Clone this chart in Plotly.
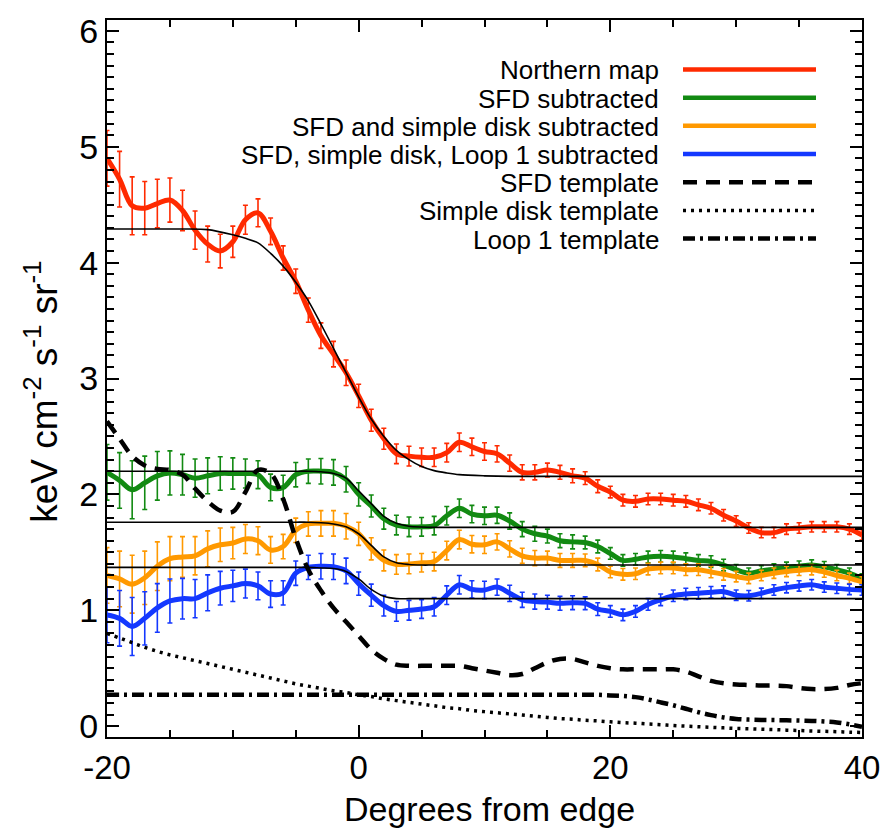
import plotly.graph_objects as go

# ---------------- data ----------------
x_deg = list(range(-20, 41))

northern = [4.90, 4.72, 4.49, 4.47, 4.51, 4.54, 4.45, 4.28, 4.16, 4.10,
            4.18, 4.37, 4.43, 4.27, 4.04, 3.84, 3.59, 3.37, 3.21, 3.05,
            2.85, 2.64, 2.48, 2.35, 2.33, 2.32, 2.32, 2.36, 2.45, 2.41,
            2.37, 2.35, 2.27, 2.19, 2.19, 2.21, 2.19, 2.16, 2.14, 2.07,
            2.02, 1.95, 1.94, 1.96, 1.96, 1.95, 1.94, 1.91, 1.88, 1.82,
            1.77, 1.71, 1.67, 1.67, 1.70, 1.71, 1.72, 1.72, 1.72, 1.70,
            1.65]

sfd_sub = [2.19, 2.12, 2.04, 2.10, 2.16, 2.185, 2.17, 2.14, 2.16, 2.18,
           2.18, 2.18, 2.17, 2.06, 2.06, 2.17, 2.20, 2.20, 2.19, 2.13,
           2.00, 1.90, 1.79, 1.735, 1.72, 1.72, 1.73, 1.815, 1.88, 1.83,
           1.815, 1.82, 1.77, 1.70, 1.66, 1.64, 1.60, 1.59, 1.585, 1.55,
           1.49, 1.43, 1.44, 1.46, 1.465, 1.46, 1.445, 1.43, 1.42, 1.39,
           1.35, 1.32, 1.34, 1.355, 1.37, 1.38, 1.39, 1.375, 1.35, 1.32,
           1.27]

sfd_disk_sub = [1.30, 1.27, 1.225, 1.28, 1.38, 1.445, 1.46, 1.47, 1.53, 1.565,
                1.58, 1.615, 1.60, 1.52, 1.55, 1.69, 1.745, 1.75, 1.75, 1.725,
                1.66, 1.53, 1.43, 1.395, 1.40, 1.41, 1.42, 1.515, 1.61, 1.57,
                1.565, 1.59, 1.53, 1.47, 1.45, 1.45, 1.43, 1.43, 1.43, 1.395,
                1.33, 1.31, 1.315, 1.355, 1.365, 1.365, 1.35, 1.35, 1.33, 1.31,
                1.29, 1.275, 1.30, 1.32, 1.335, 1.345, 1.35, 1.33, 1.30, 1.275,
                1.245]

sfd_disk_loop_sub = [0.96, 0.93, 0.86, 0.93, 1.02, 1.08, 1.10, 1.10, 1.15, 1.19,
                     1.21, 1.23, 1.21, 1.14, 1.15, 1.32, 1.37, 1.38, 1.375, 1.34,
                     1.23, 1.13, 1.04, 0.99, 1.00, 1.01, 1.03, 1.13, 1.22, 1.18,
                     1.175, 1.20, 1.146, 1.09, 1.075, 1.07, 1.06, 1.065, 1.06, 1.01,
                     0.99, 0.96, 0.99, 1.05, 1.09, 1.125, 1.14, 1.146, 1.155, 1.16,
                     1.13, 1.125, 1.146, 1.175, 1.195, 1.21, 1.22, 1.20, 1.19, 1.18,
                     1.175]

errors = [0.24, 0.24, 0.25, 0.23, 0.21, 0.19, 0.175, 0.165, 0.155, 0.145,
          0.135, 0.125, 0.12, 0.115, 0.105, 0.105, 0.105, 0.11, 0.11, 0.11,
          0.10, 0.095, 0.09, 0.085, 0.085, 0.08, 0.08, 0.08, 0.08, 0.075,
          0.075, 0.07, 0.07, 0.065, 0.065, 0.06, 0.06, 0.06, 0.055, 0.055,
          0.05, 0.05, 0.05, 0.05, 0.05, 0.05, 0.05, 0.05, 0.05, 0.05,
          0.045, 0.045, 0.045, 0.045, 0.045, 0.045, 0.045, 0.045, 0.045, 0.045,
          0.045]

# fitted step models (thin black curves)
fit_red_x = [-20, -14, -12, -10, -9, -8, -7, -6, -5, -4, -3, -2, -1, 0, 1, 2, 3, 4, 5, 6, 7, 8, 10, 12, 40]
fit_red_y = [4.29, 4.29, 4.285, 4.24, 4.21, 4.17, 4.08, 3.97, 3.83, 3.67, 3.47, 3.26, 3.05, 2.84,
             2.65, 2.50, 2.38, 2.30, 2.24, 2.205, 2.185, 2.17, 2.16, 2.155, 2.155]

fit_step_x = [-20, -6, -5, -4, -3, -2, -1, 0, 1, 2, 3, 4, 5, 6, 40]
fit_green_y = [2.20, 2.20, 2.20, 2.20, 2.195, 2.18, 2.14, 2.03, 1.92, 1.81, 1.75, 1.725, 1.718, 1.715, 1.715]
fit_orange_y = [1.76, 1.76, 1.76, 1.76, 1.755, 1.745, 1.72, 1.66, 1.56, 1.46, 1.41, 1.395, 1.39, 1.39, 1.39]
fit_blue_y = [1.37, 1.37, 1.37, 1.37, 1.365, 1.36, 1.335, 1.27, 1.18, 1.12, 1.10, 1.10, 1.10, 1.10, 1.10]

# templates
sfd_template = [2.63, 2.48, 2.33, 2.25, 2.22, 2.21, 2.17, 2.05, 1.94, 1.86,
                1.85, 2.02, 2.21, 2.18, 1.96, 1.62, 1.35, 1.17, 1.02, 0.90,
                0.78, 0.66, 0.58, 0.53, 0.52, 0.52, 0.52, 0.52, 0.52, 0.50,
                0.48, 0.46, 0.44, 0.45, 0.50, 0.55, 0.58, 0.58, 0.55, 0.52,
                0.50, 0.49, 0.49, 0.49, 0.49, 0.49, 0.47, 0.43, 0.39, 0.37,
                0.36, 0.355, 0.35, 0.35, 0.345, 0.33, 0.32, 0.32, 0.33, 0.355,
                0.37]

disk_template = [0.80, 0.76, 0.72, 0.68, 0.645, 0.615, 0.59, 0.565, 0.54, 0.515,
                 0.49, 0.465, 0.44, 0.415, 0.39, 0.365, 0.345, 0.325, 0.305, 0.29,
                 0.27, 0.255, 0.235, 0.22, 0.205, 0.19, 0.175, 0.16, 0.15, 0.135,
                 0.125, 0.115, 0.105, 0.095, 0.085, 0.075, 0.065, 0.06, 0.05, 0.045,
                 0.037, 0.03, 0.025, 0.018, 0.012, 0.005, 0.0, -0.005, -0.01, -0.015,
                 -0.02, -0.023, -0.027, -0.03, -0.035, -0.038, -0.042, -0.045, -0.048, -0.052,
                 -0.055]

loop1_template = [0.27, 0.27, 0.27, 0.27, 0.27, 0.27, 0.27, 0.27, 0.27, 0.27,
                  0.27, 0.27, 0.27, 0.27, 0.27, 0.27, 0.27, 0.27, 0.27, 0.27,
                  0.27, 0.27, 0.27, 0.27, 0.27, 0.27, 0.27, 0.27, 0.27, 0.27,
                  0.27, 0.27, 0.27, 0.27, 0.27, 0.27, 0.27, 0.27, 0.27, 0.27,
                  0.265, 0.26, 0.25, 0.23, 0.205, 0.18, 0.15, 0.12, 0.095, 0.075,
                  0.062, 0.056, 0.053, 0.052, 0.05, 0.048, 0.045, 0.04, 0.032, 0.015,
                  -0.005]

x_tick_vals = [-20, 0, 20, 40]
x_tick_text = ["-20", "0", "20", "40"]
y_tick_vals = [0, 1, 2, 3, 4, 5, 6]
y_tick_text = ["0", "1", "2", "3", "4", "5", "6"]

legend_labels = ["Northern map", "SFD subtracted", "SFD and simple disk subtracted",
                 "SFD, simple disk, Loop 1 subtracted", "SFD template",
                 "Simple disk template", "Loop 1 template"]

RED, GREEN, ORANGE, BLUE = "#ff2a00", "#128a12", "#ff9900", "#1438ff"
DASH = "14px,9px"
DOT = "3px,5px"
DASHDOT = "12px,5px,3px,5px"

FONT = "Liberation Sans, Arial, Helvetica, sans-serif"

fig = go.Figure()

series = [(northern, RED), (sfd_sub, GREEN), (sfd_disk_sub, ORANGE), (sfd_disk_loop_sub, BLUE)]
for vals, col in series:
    fig.add_trace(go.Scatter(
        x=x_deg, y=vals, mode="lines",
        line=dict(color=col, width=5, shape="spline", smoothing=1.0),
        error_y=dict(type="data", array=errors, color=col, thickness=1.6, width=2.5),
        showlegend=False, hoverinfo="skip"))

for fx, fy in [(fit_red_x, fit_red_y), (fit_step_x, fit_green_y),
               (fit_step_x, fit_orange_y), (fit_step_x, fit_blue_y)]:
    fig.add_trace(go.Scatter(x=fx, y=fy, mode="lines",
                             line=dict(color="black", width=1.6, shape="spline", smoothing=0.8),
                             showlegend=False, hoverinfo="skip"))

for vals, dash, w in [(sfd_template, DASH, 4.5), (disk_template, DOT, 3.5), (loop1_template, DASHDOT, 4.5)]:
    fig.add_trace(go.Scatter(x=x_deg, y=vals, mode="lines",
                             line=dict(color="black", width=w, dash=dash, shape="spline", smoothing=1.0),
                             showlegend=False, hoverinfo="skip"))

# ---------------- manual legend (text right-aligned, sample to the right) --------------
L_PX, R_PX, T_PX, B_PX = 107, 862, 12, 737
PW, PH = R_PX - L_PX, B_PX - T_PX

def px_x(p):
    return (p - L_PX) / PW

def px_y(p):
    return 1 - (p - T_PX) / PH

row_y = [62, 90.5, 119, 147.5, 176, 204.5, 233]
styles = [(RED, "solid", 4.5), (GREEN, "solid", 4.5), (ORANGE, "solid", 4.5), (BLUE, "solid", 4.5),
          ("black", DASH, 4.5), ("black", DOT, 3.5), ("black", DASHDOT, 4.5)]
annotations = []
shapes = []
for lab, ry, (col, dash, w) in zip(legend_labels, row_y, styles):
    annotations.append(dict(text=lab, x=px_x(661), y=px_y(ry + 1), xref="paper", yref="paper",
                            xanchor="right", yanchor="middle", showarrow=False,
                            font=dict(size=26, family=FONT, color="black")))
    shapes.append(dict(type="line", xref="paper", yref="paper",
                       x0=px_x(683), x1=px_x(816), y0=px_y(ry), y1=px_y(ry),
                       line=dict(color=col, width=w, dash=dash)))

# axis titles
annotations.append(dict(text="Degrees from edge", x=px_x(489), y=px_y(810), xref="paper", yref="paper",
                        xanchor="center", yanchor="middle", showarrow=False,
                        font=dict(size=34, family=FONT, color="black")))
annotations.append(dict(text="keV cm<sup>-2</sup> s<sup>-1</sup> sr<sup>-1</sup>",
                        x=px_x(42), y=px_y(388), xref="paper", yref="paper", textangle=-90,
                        xanchor="center", yanchor="middle", showarrow=False,
                        font=dict(size=37, family=FONT, color="black")))

fig.update_layout(
    width=896, height=828,
    margin=dict(l=L_PX, r=896 - R_PX, t=T_PX, b=828 - B_PX),
    plot_bgcolor="white", paper_bgcolor="white",
    font=dict(family=FONT, color="black"),
    annotations=annotations, shapes=shapes, showlegend=False)

fig.update_xaxes(range=[-20, 40], tickmode="array", tickvals=x_tick_vals, ticktext=x_tick_text,
                 ticks="inside", ticklen=12, tickwidth=1.5, tickcolor="black",
                 showline=True, linecolor="black", linewidth=2, mirror="ticks",
                 showgrid=False, zeroline=False, tickfont=dict(size=33, family=FONT),
                 minor=dict(tick0=-20, dtick=5, ticks="inside", ticklen=7, tickwidth=1.5,
                            tickcolor="black", showgrid=False))
fig.update_yaxes(range=[-0.094, 6.094], tickmode="array", tickvals=y_tick_vals, ticktext=y_tick_text,
                 ticks="inside", ticklen=12, tickwidth=1.5, tickcolor="black",
                 showline=True, linecolor="black", linewidth=2, mirror="ticks",
                 showgrid=False, zeroline=False, tickfont=dict(size=34, family=FONT),
                 minor=dict(tick0=0, dtick=0.1, ticks="inside", ticklen=7, tickwidth=1.5,
                            tickcolor="black", showgrid=False))

fig.write_html("out.html")
